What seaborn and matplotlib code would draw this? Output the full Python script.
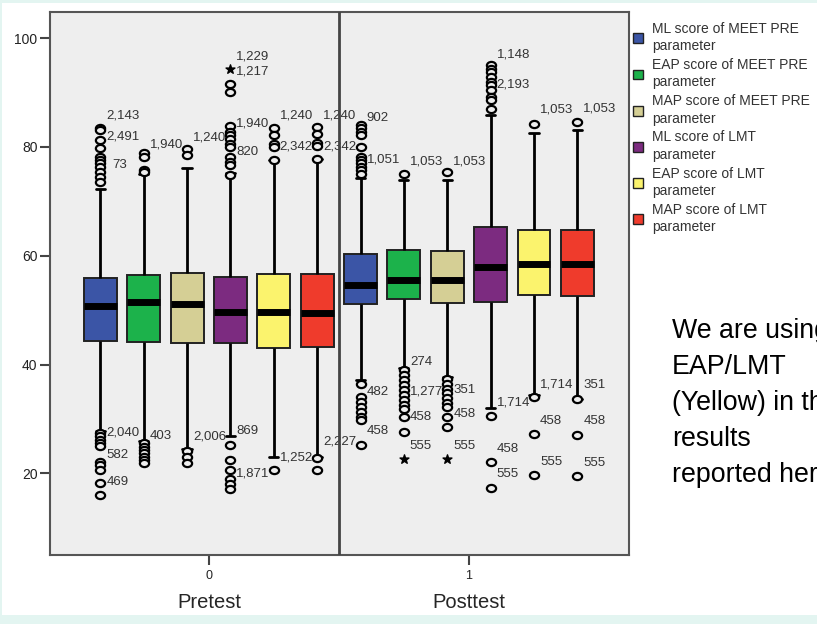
import numpy as np
import pandas as pd
import matplotlib.pyplot as plt
import seaborn as sns
from matplotlib.patches import Patch, Rectangle
from matplotlib.path import Path

sns.set_theme(style="ticks")
plt.rcParams['font.family'] = ['Liberation Sans', 'DejaVu Sans']

# groups on the x axis and the six score series
tests = ["0", "1"]
series = ["ML score of MEET PRE\nparameter", "EAP score of MEET PRE\nparameter",
          "MAP score of MEET PRE\nparameter", "ML score of LMT\nparameter",
          "EAP score of LMT\nparameter", "MAP score of LMT\nparameter"]
colors = ["#3b55a6", "#1cb24b", "#d5cf95", "#7c2b80", "#fbf36d", "#ef3b2c"]

# box statistics, [pretest, posttest]
whisker_low = [[27.8, 26.0, 24.4, 26.8, 23.0, 23.0],
               [37.1, 39.3, 37.7, 32.1, 34.4, 33.7]]
q1 = [[44.3, 44.2, 43.9, 43.9, 43.1, 43.3],
      [51.1, 52.0, 51.3, 51.5, 52.8, 52.6]]
median = [[50.8, 51.5, 51.1, 49.6, 49.6, 49.5],
          [54.6, 55.6, 55.6, 58.0, 58.5, 58.5]]
q3 = [[55.9, 56.4, 56.9, 56.1, 56.6, 56.6],
      [60.3, 61.0, 60.9, 65.3, 64.7, 64.7]]
whisker_high = [[72.2, 75.0, 76.2, 75.2, 77.6, 77.7],
                [74.2, 73.9, 73.9, 85.8, 82.6, 83.1]]

pre_outliers = [
    [83.5, 83.2, 81.2, 79.8, 78.1, 77.6, 77.0, 76.3, 75.4, 74.4, 73.5,
     27.4, 26.8, 26.2, 25.6, 25.0, 22.1, 21.5, 20.6, 18.3, 16.0],
    [78.9, 78.1, 75.7, 75.4, 25.5, 24.8, 24.3, 23.7, 23.0, 22.4, 21.9],
    [79.6, 78.5, 24.1, 23.0, 21.9],
    [91.5, 90.1, 83.8, 82.8, 82.2, 81.4, 80.6, 80.0, 78.2, 77.3, 76.7, 74.9,
     25.2, 22.4, 20.6, 18.9, 18.0, 17.2],
    [83.5, 82.2, 80.6, 80.0, 77.6, 20.7],
    [83.6, 82.3, 80.8, 80.1, 77.7, 22.9, 20.7],
]
post_outliers = [
    [84.0, 83.4, 82.8, 82.2, 80.0, 78.2, 77.6, 77.0, 76.3, 75.7, 75.1,
     36.5, 34.1, 33.1, 32.2, 31.3, 30.4, 29.8, 25.2],
    [75.0, 39.0, 38.1, 37.1, 36.2, 35.3, 34.4, 33.5, 32.5, 31.9, 30.4, 27.6],
    [75.4, 37.4, 36.5, 35.6, 34.7, 33.8, 32.9, 32.2, 30.4, 28.5],
    [95.0, 94.4, 93.8, 92.9, 92.0, 91.4, 90.4, 89.2, 88.6, 86.9, 30.5, 22.1, 17.4],
    [84.2, 34.0, 27.2, 19.7],
    [84.6, 33.7, 27.1, 19.5],
]
pre_extremes = [[], [], [], [94.4], [], []]
post_extremes = [[], [22.6], [22.7], [], [], []]

# case labels: (test, series index, value, text)
point_labels = [
    ("0", 0, 85.8, "2,143"), ("0", 0, 82.0, "2,491"), ("0", 0, 76.7, "73"),
    ("0", 0, 27.6, "2,040"), ("0", 0, 23.3, "582"), ("0", 0, 18.4, "469"),
    ("0", 1, 80.5, "1,940"), ("0", 1, 26.8, "403"),
    ("0", 2, 81.7, "1,240"), ("0", 2, 26.7, "2,006"),
    ("0", 3, 96.6, "1,229"), ("0", 3, 93.8, "1,217"), ("0", 3, 84.3, "1,940"),
    ("0", 3, 79.0, "820"), ("0", 3, 27.8, "869"), ("0", 3, 19.9, "1,871"),
    ("0", 4, 85.7, "1,240"), ("0", 4, 80.0, "2,342"), ("0", 4, 23.0, "1,252"),
    ("0", 5, 85.7, "1,240"), ("0", 5, 80.0, "2,342"), ("0", 5, 25.9, "2,227"),
    ("1", 0, 85.4, "902"), ("1", 0, 77.7, "1,051"), ("1", 0, 35.0, "482"), ("1", 0, 27.8, "458"),
    ("1", 1, 77.3, "1,053"), ("1", 1, 40.5, "274"), ("1", 1, 35.0, "1,277"),
    ("1", 1, 30.4, "458"), ("1", 1, 25.0, "555"),
    ("1", 2, 77.3, "1,053"), ("1", 2, 35.3, "351"), ("1", 2, 31.0, "458"), ("1", 2, 25.0, "555"),
    ("1", 3, 96.9, "1,148"), ("1", 3, 91.4, "2,193"), ("1", 3, 33.1, "1,714"),
    ("1", 3, 24.4, "458"), ("1", 3, 19.9, "555"),
    ("1", 4, 86.8, "1,053"), ("1", 4, 36.3, "1,714"), ("1", 4, 29.6, "458"), ("1", 4, 22.1, "555"),
    ("1", 5, 87.1, "1,053"), ("1", 5, 36.2, "351"), ("1", 5, 29.6, "458"), ("1", 5, 21.9, "555"),
]

# long table: five values per box reproduce the five-number summary exactly
rows = []
for g, t in enumerate(tests):
    for i, s in enumerate(series):
        for stat in (whisker_low, q1, median, q3, whisker_high):
            rows.append((t, s, stat[g][i]))
df = pd.DataFrame(rows, columns=["test", "series", "score"])

fig = plt.figure(figsize=(8.17, 6.24), dpi=100, facecolor="#e3f5f1")
fig.patches.append(Rectangle((2 / 817, 9 / 624), 815 / 817, 612 / 624,
                             transform=fig.transFigure, facecolor="white",
                             edgecolor="none", zorder=-5))
ax = fig.add_axes([50 / 817, 1 - 555 / 624, 579 / 817, 543 / 624])
ax.set_facecolor("#eeeeee")

n = len(series)
sns.boxplot(data=df, x="test", y="score", hue="series", order=tests, hue_order=series,
            palette=colors, width=1.0, gap=0.24, whis=np.inf, saturation=1,
            linecolor="#222222", linewidth=1.4, legend=False, ax=ax,
            medianprops=dict(color="black", linewidth=5),
            whiskerprops=dict(color="black", linewidth=2),
            capprops=dict(color="black", linewidth=2),
            capwidths=0.035)

circ = Path.unit_circle()
ellipse = Path(circ.vertices * np.array([1.0, 0.78]), circ.codes)

for g, (outs, exts) in enumerate([(pre_outliers, pre_extremes), (post_outliers, post_extremes)]):
    for i in range(n):
        xpos = g + (i - (n - 1) / 2) / n
        if outs[i]:
            ax.scatter([xpos] * len(outs[i]), outs[i], marker=ellipse, s=44,
                       facecolors="#eeeeee", edgecolors="black", linewidths=1.6, zorder=4)
        if exts[i]:
            ax.scatter([xpos] * len(exts[i]), exts[i], marker="*", s=45,
                       color="black", zorder=4)

for t, i, v, txt in point_labels:
    g = tests.index(t)
    xpos = g + (i - (n - 1) / 2) / n
    dx = 12 if txt == "73" else 6
    ax.annotate(txt, (xpos, v), xytext=(dx * 0.72, 0), textcoords="offset points",
                ha="left", va="center", fontsize=9.5, color="#333333", zorder=3)

ax.axvline(0.5, color="#444444", linewidth=2, zorder=5)
ax.set_xlim(-0.61, 1.615)
ax.set_ylim(5, 104.8)
ax.set_yticks([20, 40, 60, 80, 100])
ax.set_xlabel("")
ax.set_ylabel("")
for sp in ax.spines.values():
    sp.set_visible(True)
    sp.set_color("#555555")
    sp.set_linewidth(1.5)
ax.tick_params(axis="y", length=7, width=1.5, color="#444444", labelsize=10,
               labelcolor="#222222", pad=2)
ax.tick_params(axis="x", length=7, width=1.5, color="#444444", labelsize=9,
               labelcolor="#222222", pad=4)

fig.text(209 / 817, 1 - 603 / 624, "Pretest", ha="center", va="center", fontsize=14.5)
fig.text(469 / 817, 1 - 603 / 624, "Posttest", ha="center", va="center", fontsize=14.5)

handles = [Patch(facecolor=c, edgecolor="#222222", linewidth=1) for c in colors]
leg = fig.legend(handles, series, loc="upper left", bbox_to_anchor=(633 / 817, 1 - 22 / 624),
                 frameon=False, fontsize=10, handlelength=0.72, handleheight=0.72,
                 handletextpad=0.65, labelspacing=0.35, borderaxespad=0, borderpad=0)
for tx in leg.get_texts():
    tx.set_color("#333333")
    tx.set_linespacing(1.3)

fig.text(672 / 817, 1 - 318 / 624, "We are using\nEAP/LMT\n(Yellow) in the\nresults\nreported here",
         ha="left", va="top", fontsize=19.3, linespacing=1.5, color="black")

fig.savefig("out.png", dpi=100, facecolor=fig.get_facecolor())
